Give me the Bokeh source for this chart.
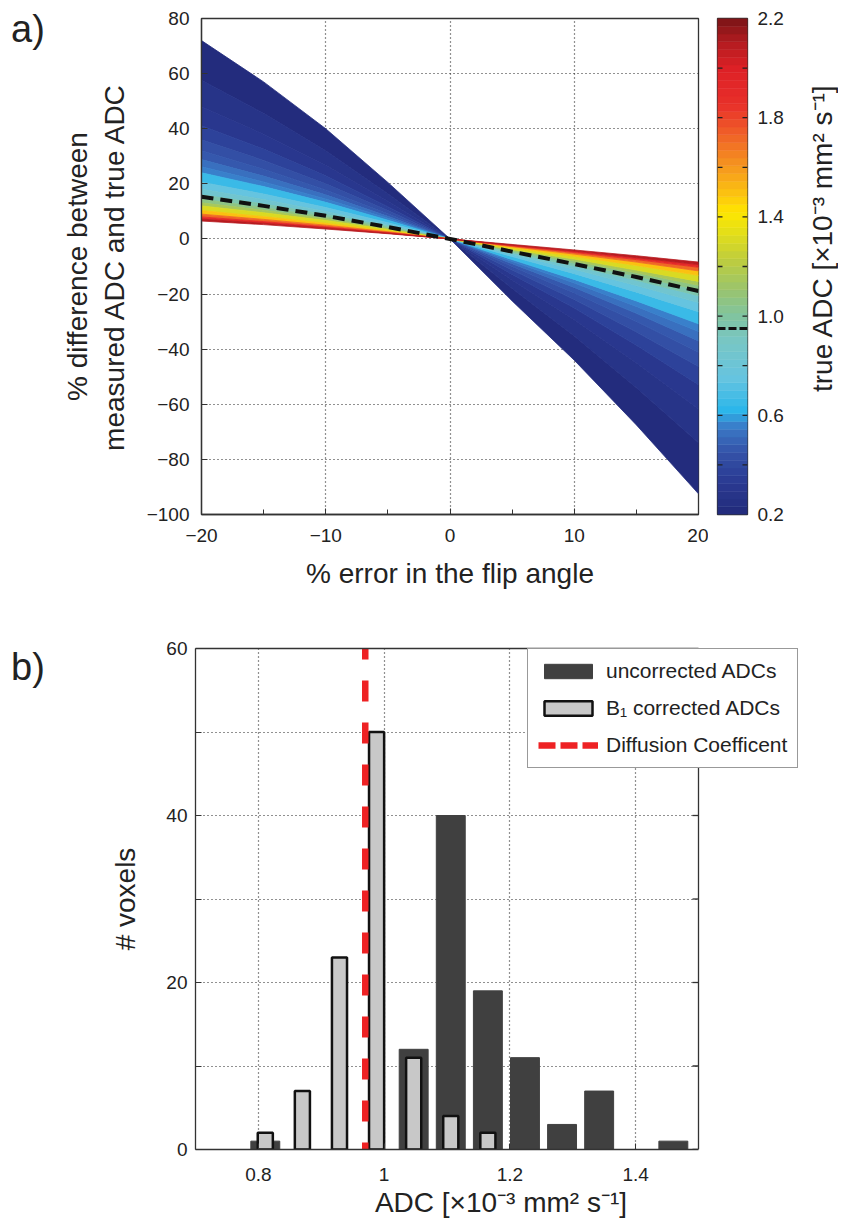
import numpy as np
from bokeh.plotting import figure
from bokeh.models import (ColumnDataSource, FixedTicker, Legend, LegendItem, Div,
                          LinearAxis, LinearColorMapper, BoxAnnotation, Span)
from bokeh.layouts import column, row
from bokeh.embed import file_html
from bokeh.resources import INLINE

FONT = "Liberation Sans"
TXT = "#222222"
AX = "#333333"

# ---------------- Panel a data ----------------
flip_err = [-20, -15, -10, -5, 0, 5, 10, 15, 20]
adc_levels = [0.20, 0.25, 0.30, 0.35, 0.40, 0.45, 0.50, 0.55, 0.60, 0.70,
              0.80, 0.90, 1.00, 1.10, 1.20, 1.40, 1.60, 1.80, 2.00, 2.20]
curve_020 = [72.0, 57.0, 40.0, 20.5, 0, -22.5, -44.0, -67.5, -92.5]
curve_025 = [57.6, 45.6, 32.0, 16.4, 0, -18.0, -35.2, -54.0, -74.0]
curve_030 = [48.0, 38.0, 26.7, 13.7, 0, -15.0, -29.3, -45.0, -61.7]
curve_035 = [41.1, 32.6, 22.9, 11.7, 0, -12.9, -25.1, -38.6, -52.9]
curve_040 = [36.0, 28.5, 20.0, 10.3, 0, -11.3, -22.0, -33.8, -46.3]
curve_045 = [32.0, 25.3, 17.8, 9.1, 0, -10.0, -19.6, -30.0, -41.1]
curve_050 = [28.8, 22.8, 16.0, 8.2, 0, -9.0, -17.6, -27.0, -37.0]
curve_055 = [26.2, 20.7, 14.5, 7.5, 0, -8.2, -16.0, -24.5, -33.6]
curve_060 = [24.0, 19.0, 13.3, 6.8, 0, -7.5, -14.7, -22.5, -30.8]
curve_070 = [20.6, 16.3, 11.4, 5.9, 0, -6.4, -12.6, -19.3, -26.4]
curve_080 = [18.0, 14.3, 10.0, 5.1, 0, -5.6, -11.0, -16.9, -23.1]
curve_090 = [16.0, 12.7, 8.9, 4.6, 0, -5.0, -9.8, -15.0, -20.6]
curve_100 = [14.4, 11.4, 8.0, 4.1, 0, -4.5, -8.8, -13.5, -18.5]
curve_110 = [13.1, 10.4, 7.3, 3.7, 0, -4.1, -8.0, -12.3, -16.8]
curve_120 = [12.0, 9.5, 6.7, 3.4, 0, -3.8, -7.3, -11.3, -15.4]
curve_140 = [10.3, 8.1, 5.7, 2.9, 0, -3.2, -6.3, -9.6, -13.2]
curve_160 = [9.0, 7.1, 5.0, 2.6, 0, -2.8, -5.5, -8.4, -11.6]
curve_180 = [8.0, 6.3, 4.4, 2.3, 0, -2.5, -4.9, -7.5, -10.3]
curve_200 = [7.2, 5.7, 4.0, 2.1, 0, -2.3, -4.4, -6.8, -9.3]
curve_220 = [6.5, 5.2, 3.6, 1.9, 0, -2.0, -4.0, -6.1, -8.4]
curves = [curve_020, curve_025, curve_030, curve_035, curve_040, curve_045,
          curve_050, curve_055, curve_060, curve_070, curve_080, curve_090,
          curve_100, curve_110, curve_120, curve_140, curve_160, curve_180,
          curve_200, curve_220]
phantom_curve = [15.3, 12.0, 8.4, 4.3, 0, -4.6, -9.1, -13.8, -18.9]
phantom_adc_cbar = 0.95

a_xticks = [-20, -10, 0, 10, 20]
a_xminor = [-15, -5, 5, 15]
a_yticks = [-100, -80, -60, -40, -20, 0, 20, 40, 60, 80]
cb_label_ticks = [0.2, 0.6, 1, 1.4, 1.8, 2.2]
cb_labels = {0.2: "0.2", 0.6: "0.6", 1: "1.0", 1.4: "1.4", 1.8: "1.8", 2.2: "2.2"}
cb_all_ticks = [0.4, 0.6, 0.8, 1.0, 1.2, 1.4, 1.6, 1.8, 2.0]
cb_title = "true ADC [\u00d710\u207b\u00b3 mm\u00b2 s\u207b\u00b9]"

# ---------------- Panel b data ----------------
bin_centers = [0.811, 0.870, 0.929, 0.988, 1.047, 1.106, 1.165, 1.224, 1.283, 1.342, 1.401, 1.460]
uncorrected = [1, 0, 0, 0, 12, 40, 19, 11, 3, 7, 0, 1]
b1_corrected = [2, 7, 23, 50, 11, 4, 2, 0, 0, 0, 0, 0]
diffusion_coeff = 0.97
b_xmin, b_xmax = 0.7, 1.5
b_ymin, b_ymax = 0, 60
b_xticks = [0.8, 1, 1.2, 1.4]
b_xlabels = {0.8: "0.8", 1: "1", 1.2: "1.2", 1.4: "1.4"}
b_yticks = [0, 20, 40, 60]
b_yminor = [10, 30, 50]

# ---------------- colour map (jet-like, as in the colour bar) ----------------
anchor_adc = [0.2, 0.33, 0.45, 0.55, 0.62, 0.75, 0.9, 1.0, 1.1, 1.22, 1.35,
              1.42, 1.5, 1.62, 1.75, 1.85, 2.0, 2.1, 2.2]
anchor_hex = ["#222a7a", "#2a3a92", "#3452a8", "#3b78c6", "#2bb6ea", "#66c4e0",
              "#78c6c4", "#80c4a0", "#98c470", "#bccc40", "#e8e014", "#ffe600",
              "#fbc012", "#f49020", "#ef5a28", "#e8302a", "#dd2026", "#b41c20",
              "#7a1416"]
rgb = np.array([[int(h[i:i + 2], 16) for i in (1, 3, 5)] for h in anchor_hex], float)
n_col = 64
edges = np.linspace(0.2, 2.2, n_col + 1)
mids = (edges[:-1] + edges[1:]) / 2
palette = []
for m in mids:
    c = [int(round(np.interp(m, anchor_adc, rgb[:, k]))) for k in range(3)]
    palette.append("#%02x%02x%02x" % tuple(c))
mapper = LinearColorMapper(palette=palette, low=0.2, high=2.2)


def style_axis(ax, size="19px"):
    ax.axis_line_color = AX
    ax.axis_line_width = 1.3
    ax.major_tick_line_color = AX
    ax.minor_tick_line_color = AX
    ax.major_tick_in = 6
    ax.major_tick_out = 0
    ax.minor_tick_in = 5
    ax.minor_tick_out = 0
    ax.major_label_text_font = FONT
    ax.major_label_text_font_size = size
    ax.major_label_text_color = TXT
    ax.axis_label_text_font = FONT
    ax.axis_label_text_font_size = "28px"
    ax.axis_label_text_font_style = "normal"
    ax.axis_label_text_color = TXT


def style_grid(g):
    g.grid_line_color = "#222222"
    g.grid_line_dash = "1 3"
    g.grid_line_width = 1.2


def panel_tag(txt, pad_top, height):
    return Div(text=('<div style="font-family:\'Liberation Sans\';font-size:38px;'
                     'line-height:1;color:#222222;padding:%dpx 0 0 11px">%s</div>'
                     % (pad_top, txt)),
               width=58, height=height, margin=0)


ROW1_H = 594
ROW2_H = 626

# ---------------- Panel a ----------------
pa = figure(width=650, height=ROW1_H, x_range=(-20, 20), y_range=(-100, 80),
            output_backend="svg", toolbar_location=None,
            min_border_left=137, min_border_right=10, min_border_top=18,
            min_border_bottom=80)
pa.background_fill_color = "white"
pa.border_fill_color = "white"
pa.outline_line_color = AX
pa.outline_line_width = 1.3
pa.outline_line_alpha = 1

xs, ys, mid_adc = [], [], []
for i in range(len(curves) - 1):
    xs.append(flip_err + flip_err[::-1])
    ys.append(curves[i] + curves[i + 1][::-1])
    mid_adc.append((adc_levels[i] + adc_levels[i + 1]) / 2)
band_src = ColumnDataSource(dict(xs=xs, ys=ys, adc=mid_adc))
pa.patches("xs", "ys", source=band_src,
           fill_color={"field": "adc", "transform": mapper},
           line_color={"field": "adc", "transform": mapper}, line_width=0.8)
pa.line(flip_err, phantom_curve, line_color="#111111", line_width=4, line_dash="12 7")

pa.xaxis.ticker = FixedTicker(ticks=a_xticks, minor_ticks=a_xminor)
pa.yaxis.ticker = FixedTicker(ticks=a_yticks)
pa.xaxis.major_label_overrides = {t: (str(t).replace("-", "\u2212")) for t in a_xticks}
pa.yaxis.major_label_overrides = {t: (str(t).replace("-", "\u2212")) for t in a_yticks}
pa.xgrid.ticker = FixedTicker(ticks=[-10, 0, 10])
pa.ygrid.ticker = FixedTicker(ticks=[-80, -60, -40, -20, 0, 20, 40, 60])
for ax in pa.xaxis + pa.yaxis:
    style_axis(ax)
style_grid(pa.xgrid[0])
style_grid(pa.ygrid[0])
pa.xaxis.axis_label = "% error in the flip angle"
pa.xaxis.major_label_standoff = 14
pa.xaxis.axis_label_standoff = 13
pa.yaxis.axis_label = "% difference between\nmeasured ADC and true ADC"
pa.yaxis.major_label_standoff = 12
pa.yaxis.axis_label_standoff = 14

# ---------------- Colour bar ----------------
pc = figure(width=80, height=ROW1_H, x_range=(0, 1), y_range=(0.2, 2.2),
            output_backend="svg", toolbar_location=None, x_axis_location=None,
            y_axis_location="right",
            min_border_left=9, min_border_right=41, min_border_top=18,
            min_border_bottom=74)
pc.background_fill_color = "white"
pc.border_fill_color = "white"
pc.grid.visible = False
pc.outline_line_color = AX
pc.outline_line_width = 1.3
pc.outline_line_alpha = 1
pc.quad(left=0, right=1, bottom=edges[:-1], top=edges[1:], fill_color=palette,
        line_color=palette, line_width=0.5)
pc.segment(x0=[0], y0=[phantom_adc_cbar], x1=[1], y1=[phantom_adc_cbar],
           line_color="#111111", line_width=3, line_dash="8 3")
pc.ray(x=[0] * len(cb_all_ticks), y=cb_all_ticks, length=5, length_units="screen",
       angle=0, line_color="#222222", line_width=1.3)
pc.ray(x=[1] * len(cb_all_ticks), y=cb_all_ticks, length=5, length_units="screen",
       angle=np.pi, line_color="#222222", line_width=1.3)
pc.yaxis.ticker = FixedTicker(ticks=cb_label_ticks)
pc.yaxis.major_label_overrides = cb_labels
style_axis(pc.yaxis[0])
pc.yaxis.axis_line_color = None
pc.yaxis.major_tick_in = 0
pc.yaxis.major_tick_line_color = None
pc.yaxis.major_label_standoff = 10

cb_title_div = Div(text=('<div style="writing-mode:vertical-rl;text-orientation:sideways;'
                         'transform:rotate(180deg);'
                         'height:400px;margin-top:39px;margin-left:18px;text-align:center;'
                         'white-space:nowrap;font-family:\'Liberation Sans\';font-size:28px;'
                         'line-height:34px;color:#222222">%s</div>' % cb_title),
                   width=53, height=ROW1_H, margin=0)

# ---------------- Panel b ----------------
b_frame_left, b_frame_right_data, b_frame_right_full = 195, 698, 806
b_xend = b_xmax + (b_frame_right_full - b_frame_right_data) / (b_frame_right_data - b_frame_left) * (b_xmax - b_xmin)
pb = figure(width=783, height=ROW2_H, x_range=(b_xmin, b_xend), y_range=(b_ymin, b_ymax),
            output_backend="svg", toolbar_location=None,
            min_border_left=137, min_border_right=35, min_border_top=54,
            min_border_bottom=71)
pb.background_fill_color = "white"
pb.border_fill_color = "white"
pb.outline_line_color = None

unc_src = ColumnDataSource(dict(x=[c for c, v in zip(bin_centers, uncorrected) if v > 0],
                                top=[v for v in uncorrected if v > 0]))
cor_src = ColumnDataSource(dict(x=[c for c, v in zip(bin_centers, b1_corrected) if v > 0],
                                top=[v for v in b1_corrected if v > 0]))
r_dark = pb.vbar(x="x", top="top", width=0.046, source=unc_src, fill_color="#404040",
                 line_color="#404040", line_width=1)
r_gray = pb.vbar(x="x", top="top", width=0.024, source=cor_src, fill_color="#c8c8c8",
                 line_color="#111111", line_width=2.5)
pb.line(x=[diffusion_coeff, diffusion_coeff], y=[b_ymax, b_ymin], line_color="#ee2224",
        line_width=6.5, line_dash="21 21", line_dash_offset=10)
r_red_leg = pb.line(x=[np.nan], y=[np.nan], line_color="#ee2224", line_width=6.5,
                    line_dash="17 5")
pb.ray(x=[b_xmax] * (len(b_yticks) + len(b_yminor)), y=b_yticks + b_yminor, length=6,
       length_units="screen", angle=np.pi, line_color=AX, line_width=1.3)

pb.xaxis.ticker = FixedTicker(ticks=b_xticks)
pb.xaxis.major_label_overrides = b_xlabels
pb.xaxis.bounds = (b_xmin, b_xmax)
pb.yaxis.ticker = FixedTicker(ticks=b_yticks, minor_ticks=b_yminor)
for ax in pb.xaxis + pb.yaxis:
    style_axis(ax)
pb.yaxis.minor_tick_in = 6
pb.ygrid.ticker = FixedTicker(ticks=b_yticks + b_yminor)
style_grid(pb.xgrid[0])
style_grid(pb.ygrid[0])
pb.xaxis.axis_label = "ADC [\u00d710\u207b\u00b3 mm\u00b2 s\u207b\u00b9]"
pb.xaxis.major_label_standoff = 18
pb.xaxis.axis_label_standoff = 3
pb.yaxis.axis_label = "# voxels"
pb.yaxis.major_label_standoff = 8
pb.yaxis.axis_label_standoff = 22
top_ax = LinearAxis(ticker=FixedTicker(ticks=[]), bounds=(b_xmin, b_xmax),
                    axis_line_color=AX, axis_line_width=1.3,
                    major_tick_in=0, major_tick_out=0, minor_tick_in=0, minor_tick_out=0)
pb.add_layout(top_ax, "above")
pb.add_layout(BoxAnnotation(left=b_xmax, fill_color="white", fill_alpha=1,
                            line_color=None, level="annotation"))
pb.add_layout(Span(location=b_xmax, dimension="height", line_color=AX, line_width=1.3))

legend = Legend(items=[LegendItem(label="uncorrected ADCs", renderers=[r_dark]),
                       LegendItem(label="B\u2081 corrected ADCs", renderers=[r_gray]),
                       LegendItem(label="Diffusion Coefficent", renderers=[r_red_leg])],
                location=(332, 381), glyph_width=60, glyph_height=18, label_standoff=8,
                padding=10, spacing=13, label_height=20, margin=0,
                label_text_font=FONT, label_text_font_size="21px", label_text_color=TXT,
                border_line_color=AX, border_line_width=1.2, background_fill_alpha=1)
pb.add_layout(legend)

layout = column(row(panel_tag("a)", 10, ROW1_H), pa, pc, cb_title_div),
                row(panel_tag("b)", 54, ROW2_H), pb))
open("out.html", "w").write(file_html(layout, INLINE))
